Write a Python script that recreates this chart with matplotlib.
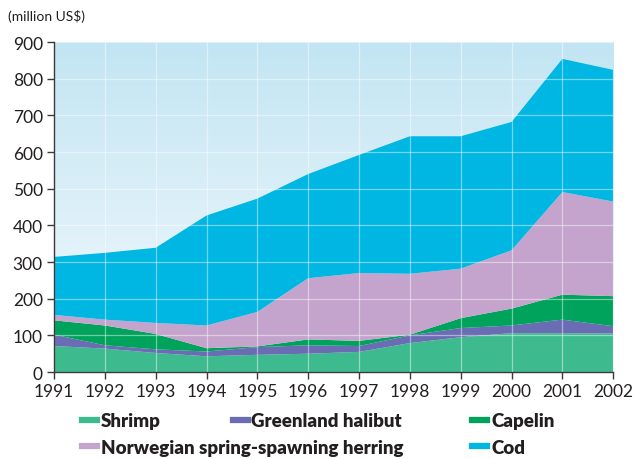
import numpy as np
import matplotlib
matplotlib.use("Agg")
import matplotlib.pyplot as plt
from matplotlib.colors import LinearSegmentedColormap
from matplotlib.lines import Line2D

plt.rcParams['font.family'] = ['Lato', 'DejaVu Sans']

years = [1991, 1992, 1993, 1994, 1995, 1996, 1997, 1998, 1999, 2000, 2001, 2002]

# cumulative tops (million US$)
top_shrimp = [71, 64, 52, 43, 47, 50, 55, 79, 95, 106, 106, 105]
top_halibut = [102, 73, 62, 56, 68, 73, 71, 100, 120, 127, 143, 125]
top_capelin = [141, 127, 104, 65, 70, 89, 85, 102, 147, 173, 211, 207]
top_herring = [156, 143, 134, 127, 164, 256, 270, 268, 282, 332, 491, 465]
top_cod = [314, 325, 339, 427, 473, 540, 592, 643, 643, 682, 854, 824]

labels = ["Shrimp", "Greenland halibut", "Capelin",
          "Norwegian spring-spawning herring", "Cod"]
colors = ["#3dbb8e", "#6a6db3", "#00a35c", "#c4a4cc", "#00b6e3"]

shrimp = np.array(top_shrimp)
halibut = np.array(top_halibut) - np.array(top_shrimp)
capelin = np.array(top_capelin) - np.array(top_halibut)
herring = np.array(top_herring) - np.array(top_capelin)
cod = np.array(top_cod) - np.array(top_herring)

fig = plt.figure(figsize=(6.34, 4.60), dpi=100)
ax = fig.add_axes([0.0852, 0.189, 0.882, 0.7175])

# gradient background
cmap = LinearSegmentedColormap.from_list("bg", ["#f5fafd", "#c2e5f3"])
grad = np.linspace(0, 1, 256).reshape(-1, 1)
ax.imshow(grad, extent=[1991, 2002, 0, 900], origin='lower', aspect='auto',
          cmap=cmap, zorder=0)

ax.stackplot(years, shrimp, halibut, capelin, herring, cod,
             colors=colors, zorder=1, linewidth=0)

ax.set_xlim(1991, 2002)
ax.set_ylim(0, 900)
ax.set_xticks(years)
ax.set_yticks(np.arange(0, 901, 100))
ax.grid(True, color='white', alpha=0.45, linewidth=0.9, zorder=2)
ax.set_axisbelow(False)

for s in ['top', 'right']:
    ax.spines[s].set_visible(False)
for s in ['left', 'bottom']:
    ax.spines[s].set_color('#3a3a3a')
    ax.spines[s].set_linewidth(1.0)
    ax.spines[s].set_zorder(3)

ax.tick_params(axis='both', colors='#3a3a3a', labelcolor='#231f20',
               labelsize=12.5, length=5, width=1.0)
ax.tick_params(axis='y', pad=3)
ax.tick_params(axis='x', pad=3)

fig.text(0.012, 0.965, "(million US$)", fontsize=10, color='#231f20',
         ha='left', va='center')

# legend entries placed like the reference
positions = [(0.129, 0.083), (0.367, 0.083), (0.745, 0.083),
             (0.129, 0.026), (0.745, 0.026)]
for lab, col, (x, y) in zip(labels, colors, positions):
    h = Line2D([], [], color=col, linewidth=4.5)
    lg = fig.legend([h], [lab], loc='center left', bbox_to_anchor=(x, y),
                    frameon=False, handlelength=0.8, handletextpad=0.2,
                    borderpad=0, borderaxespad=0,
                    prop={'weight': 'heavy', 'size': 13.5})
    for t in lg.get_texts():
        t.set_color('#231f20')

fig.savefig("out.png", dpi=100)
